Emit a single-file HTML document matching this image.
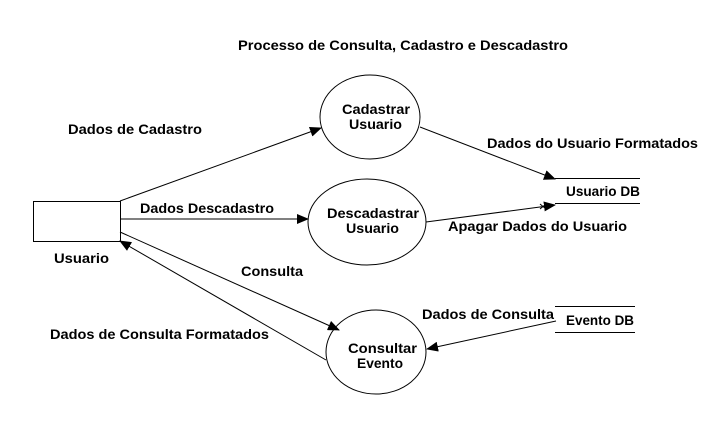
<!DOCTYPE html>
<html><head><style>
html,body{margin:0;padding:0;background:#fff;}
svg text{font-family:"Liberation Sans",Arial,sans-serif;font-size:14px;font-weight:bold;fill:#000;}
</style></head><body>
<svg width="725" height="417" viewBox="0 0 725 417" xmlns="http://www.w3.org/2000/svg">
<defs>
<marker id="a" markerWidth="12" markerHeight="10" refX="11" refY="5" orient="auto" markerUnits="userSpaceOnUse">
<path d="M0,0 L12,5 L0,10 z" fill="#000"/>
</marker>
</defs>
<rect width="725" height="417" fill="#fff"/>
<text x="238" y="50" textLength="330" lengthAdjust="spacingAndGlyphs">Processo de Consulta, Cadastro e Descadastro</text>
<rect x="33.5" y="201.5" width="87" height="40" fill="#fff" stroke="#000"/>
<text x="54" y="263" textLength="55" lengthAdjust="spacingAndGlyphs">Usuario</text>
<ellipse cx="370" cy="117" rx="50" ry="42" fill="#fff" stroke="#000"/>
<text x="342" y="114" textLength="68" lengthAdjust="spacingAndGlyphs">Cadastrar</text>
<text x="349" y="129" textLength="53" lengthAdjust="spacingAndGlyphs">Usuario</text>
<ellipse cx="367" cy="222" rx="59" ry="43" fill="#fff" stroke="#000"/>
<text x="327" y="218" textLength="92" lengthAdjust="spacingAndGlyphs">Descadastrar</text>
<text x="346" y="233" textLength="53" lengthAdjust="spacingAndGlyphs">Usuario</text>
<ellipse cx="376" cy="352" rx="50" ry="42" fill="#fff" stroke="#000"/>
<text x="348" y="353" textLength="69" lengthAdjust="spacingAndGlyphs">Consultar</text>
<text x="357" y="368" textLength="46" lengthAdjust="spacingAndGlyphs">Evento</text>
<g stroke="#000" stroke-width="1">
<line x1="555" y1="178.5" x2="640" y2="178.5"/>
<line x1="555" y1="203.5" x2="640" y2="203.5"/>
<line x1="555" y1="306.5" x2="635" y2="306.5"/>
<line x1="555" y1="332.5" x2="635" y2="332.5"/>
<line x1="120" y1="201" x2="321" y2="128" marker-end="url(#a)"/>
<line x1="120" y1="219" x2="308" y2="219" marker-end="url(#a)"/>
<line x1="120" y1="232" x2="339" y2="330" marker-end="url(#a)"/>
<line x1="326" y1="360" x2="120" y2="241" marker-end="url(#a)"/>
<line x1="420" y1="127" x2="555" y2="179" marker-end="url(#a)"/>
<line x1="426" y1="222" x2="555" y2="205" marker-end="url(#a)"/>
<line x1="556" y1="321" x2="427" y2="349" marker-end="url(#a)"/>
<line x1="540" y1="204" x2="546" y2="209"/>
<line x1="540" y1="209" x2="546" y2="204"/>
</g>
<text x="68" y="134" textLength="134" lengthAdjust="spacingAndGlyphs">Dados de Cadastro</text>
<text x="140" y="213" textLength="134" lengthAdjust="spacingAndGlyphs">Dados Descadastro</text>
<text x="241" y="276" textLength="62" lengthAdjust="spacingAndGlyphs">Consulta</text>
<text x="50" y="339" textLength="219" lengthAdjust="spacingAndGlyphs">Dados de Consulta Formatados</text>
<text x="487" y="148" textLength="211" lengthAdjust="spacingAndGlyphs">Dados do Usuario Formatados</text>
<text x="566" y="196" textLength="74" lengthAdjust="spacingAndGlyphs">Usuario DB</text>
<text x="448" y="231" textLength="179" lengthAdjust="spacingAndGlyphs">Apagar Dados do Usuario</text>
<text x="422" y="319" textLength="132" lengthAdjust="spacingAndGlyphs">Dados de Consulta</text>
<text x="566" y="325" textLength="68" lengthAdjust="spacingAndGlyphs">Evento DB</text>
</svg>
</body></html>
